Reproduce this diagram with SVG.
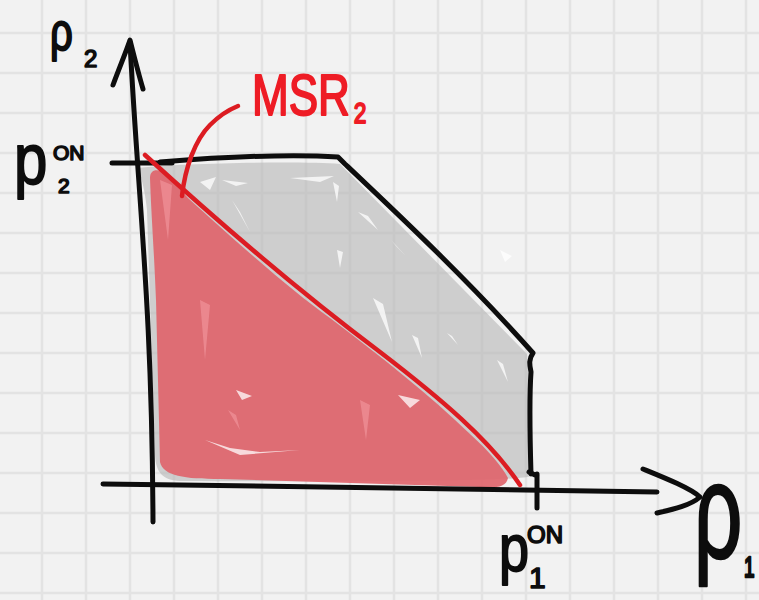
<svg xmlns="http://www.w3.org/2000/svg" width="759" height="600" viewBox="0 0 759 600">
<defs>
<style>
.grid line{stroke:#e3e3e3;stroke-width:2.5}
.ink{fill:none;stroke:#0d0d0d;stroke-width:5;stroke-linecap:round;stroke-linejoin:round}
.red{fill:none;stroke:#dc1c22;stroke-width:4.5;stroke-linecap:round;stroke-linejoin:round}
.lbl{font-family:"Liberation Sans",Arial,sans-serif;fill:#0d0d0d;stroke:#0d0d0d;stroke-width:1.6;stroke-linejoin:round}
.rlbl{font-family:"Liberation Sans",Arial,sans-serif;fill:#ee1c25;stroke:#ee1c25;stroke-width:2;stroke-linejoin:round}
.streak{fill:#ffffff;opacity:0.75}
.pstreak{fill:#f39aa0;opacity:0.6}
</style>
</defs>
<rect width="759" height="600" fill="#f2f2f2"/>
<g class="grid">
<line x1="42" y1="0" x2="42" y2="600"/><line x1="86" y1="0" x2="86" y2="600"/><line x1="130" y1="0" x2="130" y2="600"/><line x1="174" y1="0" x2="174" y2="600"/><line x1="218" y1="0" x2="218" y2="600"/><line x1="262" y1="0" x2="262" y2="600"/><line x1="306" y1="0" x2="306" y2="600"/><line x1="350" y1="0" x2="350" y2="600"/><line x1="394" y1="0" x2="394" y2="600"/><line x1="438" y1="0" x2="438" y2="600"/><line x1="482" y1="0" x2="482" y2="600"/><line x1="526" y1="0" x2="526" y2="600"/><line x1="570" y1="0" x2="570" y2="600"/><line x1="614" y1="0" x2="614" y2="600"/><line x1="658" y1="0" x2="658" y2="600"/><line x1="702" y1="0" x2="702" y2="600"/><line x1="746" y1="0" x2="746" y2="600"/>
<line x1="0" y1="33" x2="759" y2="33"/><line x1="0" y1="73" x2="759" y2="73"/><line x1="0" y1="113" x2="759" y2="113"/><line x1="0" y1="153" x2="759" y2="153"/><line x1="0" y1="193" x2="759" y2="193"/><line x1="0" y1="233" x2="759" y2="233"/><line x1="0" y1="273" x2="759" y2="273"/><line x1="0" y1="313" x2="759" y2="313"/><line x1="0" y1="353" x2="759" y2="353"/><line x1="0" y1="393" x2="759" y2="393"/><line x1="0" y1="433" x2="759" y2="433"/><line x1="0" y1="473" x2="759" y2="473"/><line x1="0" y1="513" x2="759" y2="513"/><line x1="0" y1="553" x2="759" y2="553"/><line x1="0" y1="593" x2="759" y2="593"/>
</g>
<g id="region-feasible">
<path d="M138,168 C180,163 300,161 340,164 L527,354 C530,400 529,450 531,476 C520,481 400,482 180,481 C162,480 156,472 155,455 L147,210 C145,190 141,176 138,168 Z" fill="#b6b6b6" fill-opacity="0.6"/>
<path class="streak" d="M200,182 L216,177 L210,190 Z M222,180 L248,183 L236,186 Z M290,178 L334,176 L320,182 Z M232,200 L250,232 L240,212 Z M333,182 L337,202 L339,186 Z M358,212 L378,230 L368,216 Z M391,240 L405,255 L396,246 Z M337,250 L340,268 L343,252 Z M373,298 L392,342 L383,304 Z M412,335 L422,358 L418,338 Z M447,333 L458,345 L452,336 Z M497,360 L508,382 L503,364 Z M500,250 L512,256 L505,262 Z"/>
</g>
<g id="region-msr">
<path d="M150,178 C150,168 160,168 168,176 L188,198 C230,236 290,290 330,318 C380,356 430,395 470,434 C490,452 503,468 508,478 C506,488 495,488 480,487 L220,479 C185,479 163,476 160,462 L156,300 C154,250 151,210 150,178 Z" fill="#e0656c" fill-opacity="0.92"/>
<path class="pstreak" d="M160,180 L172,185 L168,240 Z M228,410 L240,430 L236,415 Z M360,400 L366,440 L370,405 Z M200,300 L205,360 L210,305 Z"/>
<path class="streak" d="M205,440 L230,448 L260,452 L300,450 L240,455 Z M398,395 L420,400 L410,408 Z M236,390 L252,396 L242,400 Z"/>
</g>
<g id="connectors">
<path class="ink" d="M130,42 C138,200 152,300 153,522"/>
<path class="ink" d="M113,85 C120,66 126,52 130,40 C134,56 138,72 143,89"/>
<path class="ink" d="M103,484 C300,486 500,490 657,492"/>
<path class="ink" d="M643,469 C665,478 690,488 700,497 C690,506 670,510 657,513"/>
<path class="ink" d="M529,472 L537,476 M537,474 L537,508"/>
<path class="ink" d="M112,163 L172,163"/>
<path class="ink" d="M160,162 C210,158 280,153 338,157 L345,164 C400,216 470,282 533,353 C528,360 530,366 531,372 C529,400 530,440 531,474"/>
<path class="red" d="M145,155 C225,228 300,292 380,352 C440,398 490,440 520,485"/>
<path class="red" d="M182,196 C185,168 195,140 210,125 C220,115 228,110 238,106"/>
</g>
<g id="label-rho2">
<text class="lbl" font-size="40" transform="translate(50,50) scale(1,1.35)">ρ</text>
<text class="lbl" x="84" y="67" font-size="24">2</text>
</g>
<g id="label-p2on">
<text class="lbl" font-size="60" transform="translate(14,184) scale(1,1.2)">p</text>
<text class="lbl" x="53" y="160" font-size="21">ON</text>
<text class="lbl" x="58" y="193" font-size="21">2</text>
</g>
<g id="label-msr2">
<text class="rlbl" font-size="58" transform="translate(252,115) scale(0.76,1)">MSR<tspan x="134" y="8" font-size="30">2</tspan></text>
</g>
<g id="label-p1on">
<text class="lbl" font-size="54" transform="translate(499,571) scale(1,1.22)">p</text>
<text class="lbl" x="527" y="543" font-size="24">ON</text>
<text class="lbl" x="529" y="588" font-size="30">1</text>
</g>
<g id="label-rho1">
<text class="lbl" font-size="85" transform="translate(694,558) scale(1,1.6)">ρ<tspan x="50" y="12" font-size="19">1</tspan></text>
</g>
</svg>
